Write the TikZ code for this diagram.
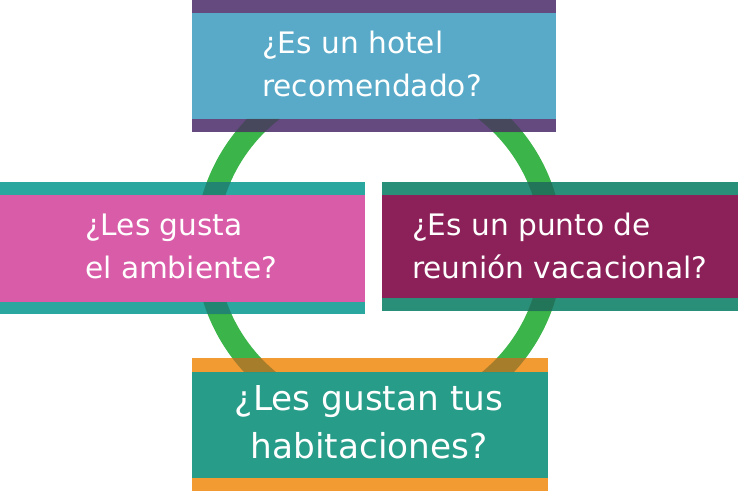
\documentclass[tikz,border=0pt]{standalone}
\usepackage{fontspec}
\setmainfont{DejaVu Sans}
\definecolor{topband}{RGB}{101,74,128}
\definecolor{topbody}{RGB}{88,170,200}
\definecolor{leftband}{RGB}{42,167,158}
\definecolor{leftbody}{RGB}{217,92,168}
\definecolor{rightband}{RGB}{42,143,120}
\definecolor{rightbody}{RGB}{139,33,88}
\definecolor{botband}{RGB}{243,155,51}
\definecolor{botbody}{RGB}{39,156,137}
\definecolor{ringgreen}{RGB}{59,180,74}
\definecolor{ringshade}{RGB}{20,70,30}
\tikzset{
  panel/.style={rectangle, inner sep=0pt, outer sep=0pt, anchor=north west, draw=none},
  label/.style={inner sep=0pt, text=white, anchor=base west},
  smallq/.style={label, font=\fontsize{29.6}{43}\selectfont},
  bigq/.style={inner sep=0pt, text=white, anchor=base, font=\fontsize{34.3}{48}\selectfont},
}
\begin{document}
\begin{tikzpicture}[x=1pt,y=-1pt]
\useasboundingbox (0,0) rectangle (738,492);
% ring
\node[circle, draw=ringgreen, line width=22pt, minimum size=346pt, inner sep=0pt] (ring) at (379,247) {};
% top box
\node[panel, fill=topband, minimum width=364pt, minimum height=13pt] (topA) at (192,0) {};
\node[panel, fill=topbody, minimum width=364pt, minimum height=106pt] (topbox) at (192,13) {};
\node[panel, fill=topband, minimum width=364pt, minimum height=13pt] (topB) at (192,119) {};
% left box
\node[panel, fill=leftband, minimum width=365pt, minimum height=13pt] (leftA) at (0,182) {};
\node[panel, fill=leftbody, minimum width=365pt, minimum height=107pt] (leftbox) at (0,195) {};
\node[panel, fill=leftband, minimum width=365pt, minimum height=12pt] (leftB) at (0,302) {};
% right box
\node[panel, fill=rightband, minimum width=356pt, minimum height=13pt] (rightA) at (382,182) {};
\node[panel, fill=rightbody, minimum width=356pt, minimum height=103pt] (rightbox) at (382,195) {};
\node[panel, fill=rightband, minimum width=356pt, minimum height=13pt] (rightB) at (382,298) {};
% bottom box
\node[panel, fill=botband, minimum width=356pt, minimum height=14pt] (botA) at (192,358) {};
\node[panel, fill=botbody, minimum width=356pt, minimum height=106pt] (botbox) at (192,372) {};
\node[panel, fill=botband, minimum width=356pt, minimum height=13pt] (botB) at (192,478) {};
% ring seen through the bands
\begin{scope}
\clip (topB.north west) rectangle (topB.south east)
      (leftA.north west) rectangle (leftA.south east)
      (leftB.north west) rectangle (leftB.south east)
      (rightA.north west) rectangle (rightA.south east)
      (rightB.north west) rectangle (rightB.south east)
      (botA.north west) rectangle (botA.south east);
\draw[ringshade, opacity=0.35, line width=22pt] (ring.center) circle[radius=173];
\end{scope}
% texts
\node[smallq] (t1) at (262,54) {\begin{tabular}[t]{@{}l@{}}¿Es un hotel\\recomendado?\end{tabular}};
\node[smallq] (t2) at (85,235) {\begin{tabular}[t]{@{}l@{}}¿Les gusta\\el ambiente?\end{tabular}};
\node[smallq] (t3) at (412,235) {\begin{tabular}[t]{@{}l@{}}¿Es un punto de\\reunión vacacional?\end{tabular}};
\node[bigq] (t4) at (369,410) {\begin{tabular}[t]{@{}c@{}}¿Les gustan tus\\habitaciones?\end{tabular}};
\end{tikzpicture}
\end{document}
